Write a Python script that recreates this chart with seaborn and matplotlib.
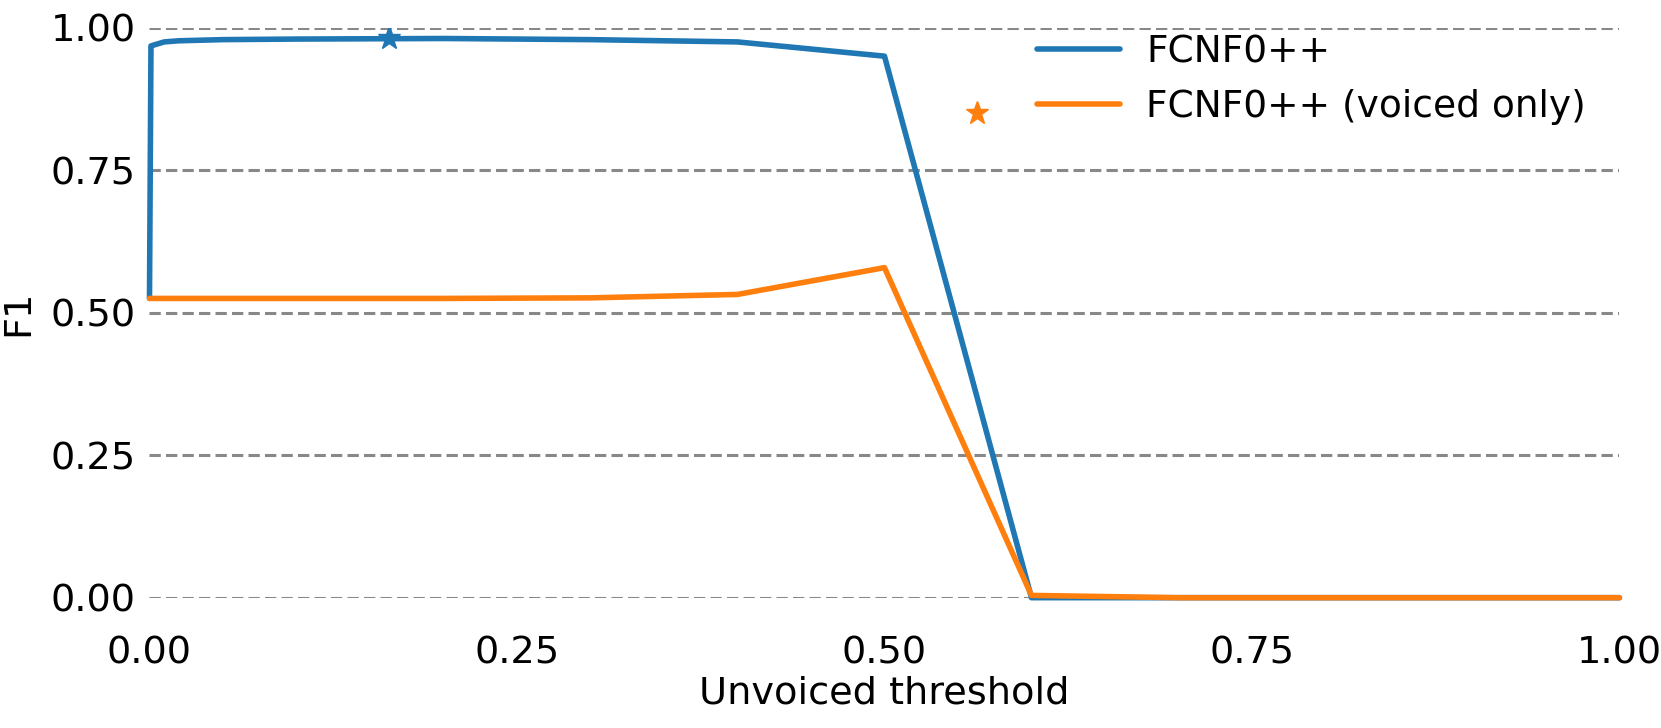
import numpy as np
import pandas as pd
import matplotlib
matplotlib.use("Agg")
import matplotlib.pyplot as plt
import seaborn as sns

# Unvoiced threshold sweep
thresholds = [0.0, 0.001, 0.01, 0.02, 0.05, 0.1, 0.2, 0.3, 0.4, 0.5, 0.6, 0.7, 0.8, 0.9, 1.0]
f1_all = [0.525, 0.968, 0.975, 0.977, 0.979, 0.980, 0.981, 0.979, 0.975, 0.950,
          0.0, 0.0, 0.0, 0.0, 0.0]
f1_voiced = [0.525, 0.525, 0.525, 0.525, 0.525, 0.525, 0.525, 0.526, 0.532, 0.579,
             0.004, 0.0, 0.0, 0.0, 0.0]
labels = ["FCNF0++", "FCNF0++ (voiced only)"]
colors = ["#1f77b4", "#ff7f0e"]

# best-threshold markers
best_x = [0.163, 0.563]
best_y = [0.982, 0.851]

df = pd.concat([
    pd.DataFrame({"threshold": thresholds, "f1": f1_all, "method": labels[0]}),
    pd.DataFrame({"threshold": thresholds, "f1": f1_voiced, "method": labels[1]}),
])

sns.set_style("white")
plt.rcParams["font.family"] = ["DejaVu Sans"]
plt.rcParams["text.color"] = "black"
plt.rcParams["axes.labelcolor"] = "black"
plt.rcParams["xtick.color"] = "black"
plt.rcParams["ytick.color"] = "black"

fig = plt.figure(figsize=(16.61, 7.28), dpi=100)
ax = fig.add_axes([0.090, 0.179, 0.885, 0.783])

ax.yaxis.grid(True, linestyle=(0, (3.7, 1.7)), color="#888888", linewidth=2.2)
ax.set_axisbelow(True)

sns.lineplot(data=df, x="threshold", y="f1", hue="method", palette=colors,
             linewidth=4.0, ax=ax, clip_on=False, estimator=None, sort=False)

for bx, by, c in zip(best_x, best_y, colors):
    ax.plot(bx, by, marker="*", color=c, markersize=17, linestyle="none")

ax.set_xlim(0, 1)
ax.set_ylim(0, 1)
ax.set_xticks([0, 0.25, 0.5, 0.75, 1.0])
ax.set_yticks([0, 0.25, 0.5, 0.75, 1.0])
ax.set_xticklabels(["0.00", "0.25", "0.50", "0.75", "1.00"])
ax.set_yticklabels(["0.00", "0.25", "0.50", "0.75", "1.00"])
ax.tick_params(axis="x", length=0, labelsize=27.5, pad=27)
ax.tick_params(axis="y", length=0, labelsize=27.5, pad=10)
ax.set_xlabel("Unvoiced threshold", fontsize=27.5, labelpad=3)
ax.set_ylabel("F1", fontsize=27.5, labelpad=10)
sns.despine(ax=ax, left=True, bottom=True)

ax.legend(title=None, frameon=False, fontsize=27, loc="upper right",
          bbox_to_anchor=(1.0, 1.048), handlelength=2.2, handletextpad=0.7)

fig.savefig("out.png", dpi=100)
